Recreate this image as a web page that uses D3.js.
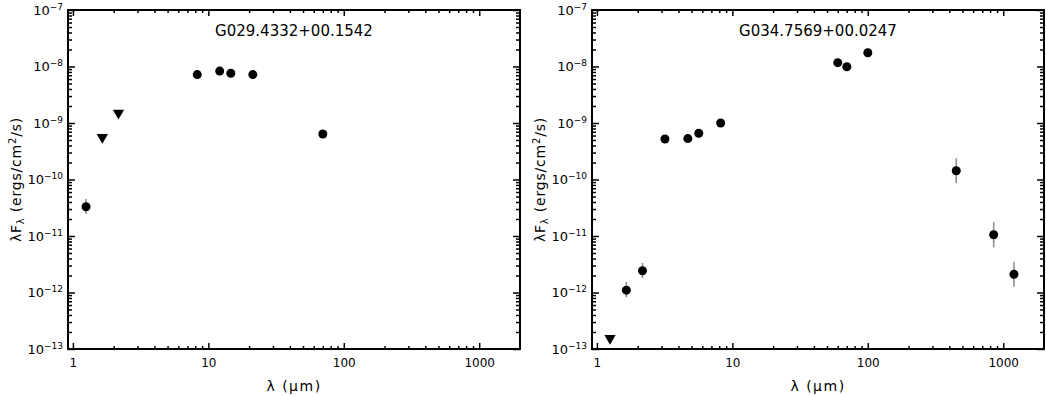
<!DOCTYPE html>
<html>
<head>
<meta charset="utf-8">
<script src="https://cdn.jsdelivr.net/npm/d3@7"></script>
<style>
  body { margin: 0; background: #fff; }
  svg text { font-family: "DejaVu Sans", sans-serif; fill: #000; }
</style>
</head>
<body>
<svg id="chart" width="1046" height="396"></svg>
<script>
// source names (one per panel)
const titles = ["G029.4332+00.1542", "G034.7569+00.0247"];

// left panel: wavelength (um), lambda*F_lambda, error range, upper-limit flag
const wavA  = [1.25, 1.65, 2.17, 8.28, 12.13, 14.65, 21.3, 70];
const fluxA = [3.3e-11, 5.6e-10, 1.5e-9, 7.2e-9, 8.3e-9, 7.6e-9, 7.2e-9, 6.4e-10];
const loA   = [2.45e-11, null, null, 6.5e-9, 7.5e-9, 6.9e-9, 6.5e-9, 5.6e-10];
const hiA   = [4.5e-11, null, null, 7.9e-9, 9.1e-9, 8.3e-9, 7.9e-9, 7.3e-10];
const limA  = [false, true, true, false, false, false, false, false];

// right panel
const wavB  = [1.25, 1.65, 2.17, 3.18, 4.69, 5.65, 8.2, 60, 70, 100, 450, 850, 1200];
const fluxB = [1.55e-13, 1.1e-12, 2.43e-12, 5.2e-10, 5.3e-10, 6.6e-10, 1.0e-9, 1.17e-8, 9.9e-9, 1.75e-8, 1.43e-10, 1.05e-11, 2.1e-12];
const loB   = [null, 8.3e-13, 1.8e-12, 4.7e-10, 4.8e-10, 6.0e-10, 9.1e-10, 1.05e-8, 8.9e-9, 1.58e-8, 8.6e-11, 6.3e-12, 1.27e-12];
const hiB   = [null, 1.53e-12, 3.33e-12, 5.7e-10, 5.8e-10, 7.3e-10, 1.1e-9, 1.29e-8, 1.09e-8, 1.93e-8, 2.37e-10, 1.75e-11, 3.5e-12];
const limB  = [true, false, false, false, false, false, false, false, false, false, false, false, false];

// axis ranges
const xDomain = [0.92, 2000];
const yDomain = [1e-13, 1e-7];

const svg = d3.select("#chart");
const top0 = 10, bot0 = 349, pw = 452;

const isMajor = v => Math.abs(Math.log10(v) - Math.round(Math.log10(v))) < 1e-9;

function drawPanel(left, title, wav, flux, lo, hi, lim) {
  const x = d3.scaleLog().domain(xDomain).range([left, left + pw]);
  const y = d3.scaleLog().domain(yDomain).range([bot0, top0]);

  const xt = x.ticks().filter(v => v > xDomain[0] && v < xDomain[1]);
  const yt = y.ticks().filter(v => v > yDomain[0] * 1.0001 && v < yDomain[1] * 0.9999);
  const xMaj = xt.filter(isMajor), xMin = xt.filter(v => !isMajor(v));
  const yMaj = y.ticks().filter(isMajor), yMin = yt.filter(v => !isMajor(v));

  const g = svg.append("g");

  // bottom axis with labels
  const bx = g.append("g").attr("transform", `translate(0,${bot0})`)
    .call(d3.axisBottom(x).tickValues(xMaj).tickSize(-6).tickPadding(9).tickFormat(d3.format("d")));
  g.append("g").attr("transform", `translate(0,${bot0})`)
    .call(d3.axisBottom(x).tickValues(xMin).tickSize(-3).tickFormat(""));
  g.append("g").attr("transform", `translate(0,${top0})`)
    .call(d3.axisTop(x).tickValues(xMaj).tickSize(-6).tickFormat(""));
  g.append("g").attr("transform", `translate(0,${top0})`)
    .call(d3.axisTop(x).tickValues(xMin).tickSize(-3).tickFormat(""));

  // left axis with labels 10^n
  const ly = g.append("g").attr("transform", `translate(${left},0)`)
    .call(d3.axisLeft(y).tickValues(yMaj).tickSize(-7).tickPadding(5).tickFormat(""));
  g.append("g").attr("transform", `translate(${left},0)`)
    .call(d3.axisLeft(y).tickValues(yMin).tickSize(-4).tickFormat(""));
  g.append("g").attr("transform", `translate(${left + pw},0)`)
    .call(d3.axisRight(y).tickValues(yMaj).tickSize(-7).tickFormat(""));
  g.append("g").attr("transform", `translate(${left + pw},0)`)
    .call(d3.axisRight(y).tickValues(yMin).tickSize(-4).tickFormat(""));

  g.selectAll(".domain").remove();
  g.selectAll(".tick line").attr("stroke", "#000").attr("stroke-width", 1.5);

  bx.selectAll("text").style("font-size", "12px").attr("dy", "0.71em")
    .style("font-family", "DejaVu Sans");

  ly.selectAll(".tick text")
    .style("font-size", "13px").style("font-family", "DejaVu Sans")
    .each(function(d) {
      const t = d3.select(this);
      t.text("");
      t.append("tspan").text("10");
      t.append("tspan").attr("dy", -5).style("font-size", "9px")
        .text("\u2212" + Math.abs(Math.round(Math.log10(d))));
    });

  // frame
  g.append("rect")
    .attr("x", left).attr("y", top0).attr("width", pw).attr("height", bot0 - top0)
    .attr("fill", "none").attr("stroke", "#000").attr("stroke-width", 2);

  // title
  g.append("text")
    .attr("x", left + pw / 2).attr("y", 36)
    .attr("text-anchor", "middle").style("font-size", "15px")
    .text(title);

  // x axis title
  g.append("text")
    .attr("x", left + pw / 2).attr("y", 391)
    .attr("text-anchor", "middle").style("font-size", "14px")
    .style("letter-spacing", "1.5px")
    .text("\u03bb (\u03bcm)");

  // y axis title
  const yl = g.append("text")
    .attr("transform", `translate(${left - 47},${(top0 + bot0) / 2}) rotate(-90)`)
    .attr("text-anchor", "middle").style("font-size", "14px")
    .style("letter-spacing", "0.8px");
  yl.append("tspan").text("\u03bbF");
  yl.append("tspan").attr("dy", 3).style("font-size", "10px").text("\u03bb");
  yl.append("tspan").attr("dy", -3).text(" (ergs/cm");
  yl.append("tspan").attr("dy", -5).style("font-size", "10px").text("2");
  yl.append("tspan").attr("dy", 5).text("/s)");

  const pts = wav.map((w, i) => ({ w: w, f: flux[i], lo: lo[i], hi: hi[i], lim: lim[i] }));

  // error bars
  g.selectAll(".err").data(pts.filter(d => !d.lim && d.lo != null)).enter()
    .append("line")
    .attr("x1", d => x(d.w)).attr("x2", d => x(d.w))
    .attr("y1", d => y(d.lo)).attr("y2", d => y(d.hi))
    .attr("stroke", "#888").attr("stroke-width", 1.5);

  // detections
  g.selectAll(".pt").data(pts.filter(d => !d.lim)).enter()
    .append("circle")
    .attr("cx", d => x(d.w)).attr("cy", d => y(d.f))
    .attr("r", 4.5).attr("fill", "#000");

  // upper limits
  g.selectAll(".ul").data(pts.filter(d => d.lim)).enter()
    .append("path")
    .attr("d", d3.symbol().type(d3.symbolTriangle).size(55))
    .attr("transform", d => `translate(${x(d.w)},${y(d.f)}) rotate(180)`)
    .attr("fill", "#000");
}

drawPanel(68, titles[0], wavA, fluxA, loA, hiA, limA);
drawPanel(592, titles[1], wavB, fluxB, loB, hiB, limB);
</script>
</body>
</html>
